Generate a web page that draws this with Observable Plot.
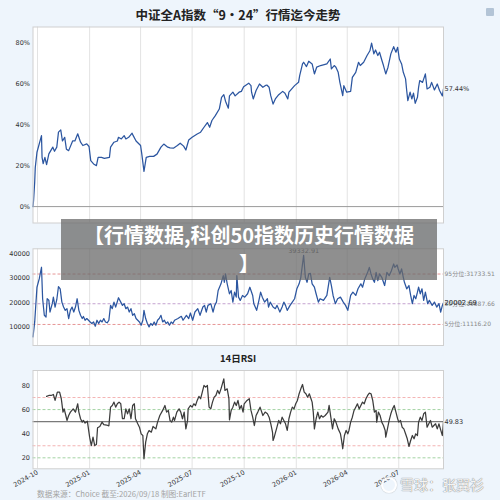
<!DOCTYPE html>
<html><head><meta charset="utf-8">
<script src="https://cdn.jsdelivr.net/npm/d3@7"></script>
<script src="https://cdn.jsdelivr.net/npm/@observablehq/plot@0.6"></script>
<style>
html,body{margin:0;padding:0}
body{background:#eef5fc;width:500px;height:500px;overflow:hidden;position:relative;font-family:"DejaVu Sans","Noto Sans CJK SC",sans-serif}
.abs{position:absolute;left:0}
#title{position:absolute;left:0;width:476px;top:5px;text-align:center;font:bold 12.5px "Noto Sans CJK SC",sans-serif;color:#222}
#rsiTitle{position:absolute;left:0;width:476px;top:351px;text-align:center;font:bold 9.5px "Noto Sans CJK SC",sans-serif;color:#222}
#footer{position:absolute;left:37px;top:488px;font:7.7px "Noto Sans CJK SC",sans-serif;color:#a3a3a3;white-space:nowrap}
#banner{position:absolute;left:61px;top:219px;width:376px;height:61px;background:rgba(105,105,105,0.75);color:#fff;text-align:center;font:bold 20px/28px "Noto Sans CJK SC",sans-serif;padding-top:2px;box-sizing:border-box;white-space:nowrap}
#wm{position:absolute;left:400px;top:475px;font:14px/18px "Noto Sans CJK SC",sans-serif;color:rgba(255,255,255,0.92);text-shadow:0 0 1px #888,0 0 1px #888;white-space:nowrap}
#logo{position:absolute;left:381px;top:477px;width:12px;height:12px;border:2px solid rgba(255,255,255,0.9);border-radius:50%;box-shadow:0 0 1px #888}
#icon{position:absolute;left:486px;top:8px;width:8px;height:8px;background:#b3c4d6;border-radius:1px}
</style></head><body>
<div id="title">中证全A指数“9・24”行情迄今走势</div>
<div id="icon"></div>
<div id="p1" class="abs" style="top:20px"></div>
<div id="p2" class="abs" style="top:240px"></div>
<div id="rsiTitle">14日RSI</div>
<div id="p3" class="abs" style="top:362px"></div>
<div id="footer">数据来源：Choice 截至:2026/09/18 制图:EarlETF</div>
<div id="banner">【行情数据,科创50指数历史行情数据<br>】</div>
<div id="logo"></div>
<div id="wm">雪球：张翼衫</div>
<script>
// ---- data ----
const quarterDates = ["2024-10-01","2025-01-01","2025-04-01","2025-07-01","2025-10-01","2026-01-01","2026-04-01","2026-07-01"];
const quarterLabels = ["2024-10","2025-01","2025-04","2025-07","2025-10","2026-01","2026-04","2026-07"];
const pctTicks = [0,20,40,60,80];
const volTicks = [10000,20000,30000,40000];
const rsiTicks = [20,40,60,80];
const volPercentiles = [["95分位",31733.51],["50分位",19587.66],["5分位",11116.20]];
const rsiLevels = [70,60,50,30,20];

const indexReturn = [["2024-09-23",0],["2024-09-24",3],["2024-09-26",12],["2024-09-27",19],["2024-09-30",26.5],["2024-10-08",34.6],["2024-10-09",24],["2024-10-11",21],["2024-10-14",24],["2024-10-17",20.5],["2024-10-21",25.7],["2024-10-28",29],["2024-10-31",27],["2024-11-04",29],["2024-11-07",36.3],["2024-11-11",37.4],["2024-11-14",32],["2024-11-18",33.8],["2024-11-21",28],["2024-11-25",27.3],["2024-12-02",32],["2024-12-06",32],["2024-12-11",35.5],["2024-12-16",31.4],["2024-12-20",29.8],["2024-12-27",30.6],["2024-12-31",29.3],["2025-01-03",22.4],["2025-01-08",20.8],["2025-01-13",20],["2025-01-16",24],["2025-01-22",24],["2025-01-27",23.5],["2025-02-05",24],["2025-02-07",29],["2025-02-13",31.4],["2025-02-19",32],["2025-02-21",33.8],["2025-02-26",33],["2025-03-03",34.6],["2025-03-06",33],["2025-03-11",33.8],["2025-03-17",35.8],["2025-03-19",34.6],["2025-03-24",32],["2025-04-01",29.8],["2025-04-03",26],["2025-04-07",17.2],["2025-04-11",24],["2025-04-17",24.5],["2025-04-24",24.5],["2025-04-30",25.6],["2025-05-07",29],["2025-05-12",30.5],["2025-05-19",29],["2025-05-23",28.6],["2025-05-29",28.5],["2025-06-05",29.8],["2025-06-10",30.9],["2025-06-16",29.5],["2025-06-20",27.6],["2025-06-25",32.5],["2025-07-01",33.8],["2025-07-10",35.4],["2025-07-16",36.3],["2025-07-22",38.7],["2025-07-28",41],["2025-08-01",38.7],["2025-08-05",42],["2025-08-11",44.4],["2025-08-18",47.6],["2025-08-22",53.3],["2025-08-26",54.6],["2025-08-29",51.4],["2025-09-03",48],["2025-09-05",54],["2025-09-11",55.8],["2025-09-15",54],["2025-09-22",55.8],["2025-09-26",56.2],["2025-09-30",58.5],["2025-10-09",60.2],["2025-10-13",59],["2025-10-14",55.8],["2025-10-17",52.5],["2025-10-22",56.6],["2025-10-28",59.8],["2025-11-03",58.2],["2025-11-07",59],["2025-11-10",59.3],["2025-11-14",58.2],["2025-11-17",54],["2025-11-21",50],["2025-11-25",52.5],["2025-12-01",54.6],["2025-12-08",56.2],["2025-12-12",55.3],["2025-12-17",52.5],["2025-12-19",55.8],["2025-12-29",59],["2026-01-05",60.6],["2026-01-07",63.9],["2026-01-12",69.6],["2026-01-14",70.4],["2026-01-19",68.3],["2026-01-23",70.9],["2026-01-29",69.6],["2026-02-02",64.7],["2026-02-06",68],["2026-02-13",68.8],["2026-02-24",69.6],["2026-03-02",72],["2026-03-04",67.2],["2026-03-09",68.8],["2026-03-12",68],["2026-03-16",65.5],["2026-03-19",60.6],["2026-03-24",54.1],["2026-03-26",59],["2026-03-31",55.8],["2026-04-07",56.2],["2026-04-10",63],["2026-04-16",65.5],["2026-04-21",70.4],["2026-04-24",68.8],["2026-04-30",70.4],["2026-05-06",73.7],["2026-05-11",76],["2026-05-14",79.7],["2026-05-18",74.5],["2026-05-21",76.4],["2026-05-25",73.7],["2026-05-28",75.3],["2026-06-01",71.5],["2026-06-04",68.8],["2026-06-08",64.7],["2026-06-12",68],["2026-06-17",74.5],["2026-06-22",78],["2026-06-26",75.3],["2026-06-29",77.7],["2026-07-02",72],["2026-07-06",69.6],["2026-07-09",65.5],["2026-07-13",62.3],["2026-07-15",56.6],["2026-07-17",51.7],["2026-07-21",55.8],["2026-07-24",52.5],["2026-07-27",55.3],["2026-07-30",50.4],["2026-08-03",53.3],["2026-08-05",58.2],["2026-08-07",61.5],["2026-08-12",60.6],["2026-08-17",64.7],["2026-08-20",57.4],["2026-08-25",58.2],["2026-08-28",60.6],["2026-09-02",56.9],["2026-09-07",59.8],["2026-09-11",56.6],["2026-09-16",54],["2026-09-18",57.44]];

const turnover = [["2024-09-23",6070],["2024-09-26",12150],["2024-09-30",26340],["2024-10-04",29740],["2024-10-08",34500],["2024-10-10",21630],["2024-10-13",14860],["2024-10-16",14180],["2024-10-18",21630],["2024-10-21",21000],["2024-10-23",16200],["2024-10-27",19600],["2024-10-29",22280],["2024-11-01",18230],["2024-11-04",21230],["2024-11-07",26620],["2024-11-10",25690],["2024-11-13",20260],["2024-11-16",18230],["2024-11-19",16890],["2024-11-22",17570],["2024-11-25",13530],["2024-11-28",16890],["2024-12-01",18230],["2024-12-04",16200],["2024-12-07",18230],["2024-12-10",21630],["2024-12-13",16890],["2024-12-16",14860],["2024-12-19",13530],["2024-12-21",14400],["2024-12-24",12840],["2024-12-27",13530],["2024-12-30",12840],["2025-01-02",12150],["2025-01-05",11500],["2025-01-08",12150],["2025-01-11",10400],["2025-01-14",12840],["2025-01-17",11500],["2025-01-20",12840],["2025-01-23",12150],["2025-01-26",13530],["2025-01-29",12150],["2025-02-01",11800],["2025-02-04",12840],["2025-02-07",18920],["2025-02-10",17570],["2025-02-13",20260],["2025-02-16",18230],["2025-02-21",22040],["2025-02-25",20260],["2025-02-28",18920],["2025-03-03",19600],["2025-03-06",17570],["2025-03-09",18230],["2025-03-12",16200],["2025-03-15",17570],["2025-03-18",14860],["2025-03-21",15500],["2025-03-24",13530],["2025-03-27",12840],["2025-03-30",12150],["2025-04-02",10810],["2025-04-05",12840],["2025-04-07",16890],["2025-04-10",13530],["2025-04-13",11500],["2025-04-16",10140],["2025-04-19",11500],["2025-04-22",10810],["2025-04-25",12150],["2025-04-28",10810],["2025-05-01",12840],["2025-05-04",13530],["2025-05-07",14860],["2025-05-10",12150],["2025-05-13",12840],["2025-05-16",11500],["2025-05-19",12150],["2025-05-22",10810],["2025-05-25",12150],["2025-05-28",11500],["2025-05-31",12840],["2025-06-06",13530],["2025-06-12",14460],["2025-06-15",12840],["2025-06-21",14860],["2025-06-25",13530],["2025-06-28",15800],["2025-07-02",12840],["2025-07-06",16200],["2025-07-11",17570],["2025-07-15",14860],["2025-07-20",18230],["2025-07-23",18920],["2025-07-26",16200],["2025-07-29",18920],["2025-08-03",19600],["2025-08-07",16200],["2025-08-10",18920],["2025-08-13",20260],["2025-08-16",25000],["2025-08-21",27720],["2025-08-25",31080],["2025-08-27",28360],["2025-08-29",31770],["2025-09-01",27720],["2025-09-05",23660],["2025-09-08",25000],["2025-09-11",20260],["2025-09-14",24310],["2025-09-17",22280],["2025-09-18",31080],["2025-09-21",22280],["2025-09-24",20950],["2025-09-28",22970],["2025-10-02",22280],["2025-10-07",23660],["2025-10-11",26340],["2025-10-16",22970],["2025-10-18",19600],["2025-10-23",16890],["2025-10-27",20950],["2025-10-30",24310],["2025-11-02",22280],["2025-11-06",20260],["2025-11-11",21630],["2025-11-13",18230],["2025-11-16",20260],["2025-11-21",18230],["2025-11-25",17570],["2025-11-28",18920],["2025-12-03",16200],["2025-12-07",18230],["2025-12-10",20260],["2025-12-13",18920],["2025-12-16",16890],["2025-12-21",18920],["2025-12-25",20260],["2025-12-29",21630],["2026-01-02",25690],["2026-01-06",27720],["2026-01-09",30390],["2026-01-12",35830],["2026-01-14",39332.91],["2026-01-17",30390],["2026-01-20",28360],["2026-01-23",31770],["2026-01-26",32000],["2026-01-29",27720],["2026-02-02",26340],["2026-02-05",23660],["2026-02-09",20260],["2026-02-12",21630],["2026-02-18",20950],["2026-02-24",22970],["2026-03-01",30390],["2026-03-04",27030],["2026-03-07",22970],["2026-03-11",19600],["2026-03-15",21630],["2026-03-20",22280],["2026-03-25",20260],["2026-03-29",18920],["2026-04-02",16890],["2026-04-07",22970],["2026-04-11",24310],["2026-04-16",22970],["2026-04-20",25690],["2026-04-25",27720],["2026-04-28",26340],["2026-05-02",29740],["2026-05-07",32420],["2026-05-10",34440],["2026-05-13",31770],["2026-05-16",29740],["2026-05-19",28360],["2026-05-22",32420],["2026-05-25",29060],["2026-05-28",31770],["2026-06-01",30390],["2026-06-04",28360],["2026-06-06",27030],["2026-06-10",32420],["2026-06-14",31080],["2026-06-18",33110],["2026-06-22",35830],["2026-06-24",34440],["2026-06-28",35420],["2026-06-30",33800],["2026-07-03",31770],["2026-07-06",33800],["2026-07-09",30390],["2026-07-11",28360],["2026-07-15",25690],["2026-07-19",27030],["2026-07-22",22970],["2026-07-25",19600],["2026-07-28",22970],["2026-07-31",21630],["2026-08-03",24310],["2026-08-05",26340],["2026-08-08",23660],["2026-08-11",25690],["2026-08-14",20950],["2026-08-17",24310],["2026-08-21",19600],["2026-08-24",20950],["2026-08-29",18920],["2026-09-02",20260],["2026-09-06",18230],["2026-09-10",19600],["2026-09-13",16200],["2026-09-16",18920],["2026-09-18",20002.69]];

const rsi14 = [["2024-10-17",70.9],["2024-10-21",71.7],["2024-10-25",71.7],["2024-10-29",72.5],["2024-11-01",67.6],["2024-11-05",74.5],["2024-11-09",74.5],["2024-11-12",69],["2024-11-15",57.9],["2024-11-17",60.6],["2024-11-20",55.1],["2024-11-22",51],["2024-11-25",55.1],["2024-11-28",57.9],["2024-12-03",60.6],["2024-12-07",57.9],["2024-12-11",64.8],["2024-12-13",57.9],["2024-12-16",52.4],["2024-12-19",49.6],["2024-12-21",51],["2024-12-24",48.8],["2024-12-28",50.4],["2025-01-01",37.1],["2025-01-04",30.2],["2025-01-07",37.1],["2025-01-10",30.2],["2025-01-13",31],["2025-01-15",44.9],["2025-01-19",46],["2025-01-23",49.6],["2025-01-26",47.5],["2025-01-31",47.2],["2025-02-04",46.5],["2025-02-07",62],["2025-02-10",63.4],["2025-02-13",66.2],["2025-02-16",62],["2025-02-19",64.8],["2025-02-22",66.2],["2025-02-25",64.8],["2025-02-28",52.4],["2025-03-03",52.4],["2025-03-06",60.6],["2025-03-09",56.5],["2025-03-12",60.6],["2025-03-15",52.4],["2025-03-18",63.4],["2025-03-21",64.8],["2025-03-23",52.4],["2025-03-27",48.2],["2025-03-30",45.4],["2025-04-02",39.9],["2025-04-05",38.5],["2025-04-07",19.2],["2025-04-10",33],["2025-04-13",39.9],["2025-04-16",42.7],["2025-04-20",41.3],["2025-04-23",46],["2025-04-28",44],["2025-05-01",49.6],["2025-05-05",55.1],["2025-05-10",59.3],["2025-05-14",63.4],["2025-05-17",57.9],["2025-05-20",59.3],["2025-05-23",51],["2025-05-26",49.6],["2025-05-29",53.7],["2025-05-31",51],["2025-06-04",57.9],["2025-06-08",60.6],["2025-06-11",57.9],["2025-06-14",52.4],["2025-06-17",57.9],["2025-06-20",44],["2025-06-23",51],["2025-06-24",60.6],["2025-06-28",63.4],["2025-07-01",62],["2025-07-04",64.8],["2025-07-07",63.4],["2025-07-10",67.6],["2025-07-13",70.9],["2025-07-16",69],["2025-07-19",74.5],["2025-07-22",80],["2025-07-25",78.6],["2025-07-28",80],["2025-07-31",62],["2025-08-03",60.6],["2025-08-06",66.2],["2025-08-09",70.3],["2025-08-12",71.7],["2025-08-15",75.9],["2025-08-18",73.1],["2025-08-21",77.2],["2025-08-26",85.5],["2025-08-28",75.9],["2025-09-01",77.2],["2025-09-04",69],["2025-09-05",51.5],["2025-09-08",59.3],["2025-09-11",62],["2025-09-14",66.2],["2025-09-17",63.4],["2025-09-20",67.6],["2025-09-23",60.6],["2025-09-26",63.4],["2025-09-29",57.9],["2025-10-01",64.8],["2025-10-06",67.6],["2025-10-10",69],["2025-10-13",59.3],["2025-10-16",53.7],["2025-10-19",46.8],["2025-10-22",55.1],["2025-10-25",57.9],["2025-10-29",62],["2025-11-03",55.1],["2025-11-07",57.9],["2025-11-11",56.5],["2025-11-14",53.7],["2025-11-17",48.2],["2025-11-20",41.3],["2025-11-21",34.4],["2025-11-23",37.1],["2025-11-27",44],["2025-12-01",51],["2025-12-04",48.2],["2025-12-07",53.7],["2025-12-10",51],["2025-12-13",48.2],["2025-12-16",42.7],["2025-12-19",52.4],["2025-12-22",57.9],["2025-12-25",62],["2025-12-28",60.6],["2025-12-31",64.8],["2026-01-03",67.6],["2026-01-06",73.1],["2026-01-09",77.2],["2026-01-12",80.8],["2026-01-15",74.5],["2026-01-18",73.1],["2026-01-21",70.3],["2026-01-24",73.1],["2026-01-27",69],["2026-01-29",66.2],["2026-01-31",57.9],["2026-02-02",44],["2026-02-05",52.4],["2026-02-08",57.9],["2026-02-11",52.4],["2026-02-14",55.1],["2026-02-17",53.7],["2026-02-21",55.1],["2026-02-26",57.9],["2026-02-28",63.4],["2026-03-03",53.7],["2026-03-06",44],["2026-03-09",52.4],["2026-03-12",49.6],["2026-03-16",44],["2026-03-20",39.9],["2026-03-22",34.4],["2026-03-24",27.5],["2026-03-27",38.5],["2026-03-30",42.7],["2026-04-02",39.9],["2026-04-04",42.7],["2026-04-07",49.6],["2026-04-10",53.7],["2026-04-13",59.3],["2026-04-16",62],["2026-04-19",64.8],["2026-04-22",60.6],["2026-04-25",63.4],["2026-04-28",66.2],["2026-05-01",64.8],["2026-05-04",69],["2026-05-07",71.7],["2026-05-10",73.6],["2026-05-13",73.1],["2026-05-16",67.6],["2026-05-19",57.9],["2026-05-22",59.3],["2026-05-23",49.6],["2026-05-26",57.9],["2026-05-29",55.1],["2026-06-01",49.6],["2026-06-04",46.8],["2026-06-07",42.7],["2026-06-08",37.1],["2026-06-11",44],["2026-06-14",51],["2026-06-17",56.5],["2026-06-20",60.6],["2026-06-23",63.4],["2026-06-26",57.9],["2026-06-29",52.4],["2026-07-01",49.6],["2026-07-04",51],["2026-07-07",45.4],["2026-07-10",44],["2026-07-13",39.9],["2026-07-16",35.8],["2026-07-19",29.4],["2026-07-22",34.4],["2026-07-25",38.5],["2026-07-28",35.8],["2026-07-31",39.9],["2026-08-03",38.5],["2026-08-05",49.6],["2026-08-08",53.7],["2026-08-11",51],["2026-08-14",56.5],["2026-08-17",57.9],["2026-08-20",45.4],["2026-08-23",48.2],["2026-08-26",51],["2026-08-29",45.4],["2026-09-01",46.8],["2026-09-04",48.2],["2026-09-07",44],["2026-09-10",48.2],["2026-09-13",43.2],["2026-09-16",38.5],["2026-09-18",49.83]];

// ---- drawing ----
const parse = d3.utcParse("%Y-%m-%d");
const toRows = a => a.map(([d, v]) => ({date: parse(d), value: v}));
const idxRows = toRows(indexReturn), volRows = toRows(turnover), rsiRows = toRows(rsi14);
const xDomain = [idxRows[0].date, idxRows[idxRows.length - 1].date];
const qTicks = quarterDates.map(parse);
const labelOf = new Map(qTicks.map((d, i) => [+d, quarterLabels[i]]));
const FONT = '"DejaVu Sans","Noto Sans CJK SC",sans-serif';
const BLUE = "#2c56a0";

function common(h, mt, mb, yDomain) {
  return {
    width: 500, height: h, marginLeft: 32.5, marginRight: 57, marginTop: mt, marginBottom: mb,
    x: {type: "utc", domain: xDomain, axis: null},
    y: {domain: yDomain, axis: null},
    style: {background: "transparent", fontFamily: FONT, overflow: "visible", color: "#333"}
  };
}
const lastOf = rows => rows[rows.length - 1];

const p1 = Plot.plot({
  ...common(210, 6.5, 7.5, [-8, 87.6]),
  marks: [
    Plot.frame({fill: "white", stroke: null}),
    Plot.gridX(qTicks, {stroke: "#e3e3e3", strokeOpacity: 1}),
    Plot.ruleY([0], {stroke: "#9a9a9a", strokeWidth: 1}),
    Plot.line(idxRows, {x: "date", y: "value", stroke: BLUE, strokeWidth: 1.25}),
    Plot.axisY(pctTicks, {tickFormat: d => d + "%", tickSize: 0, tickPadding: 3, fontSize: 6.5, label: null}),
    Plot.text([lastOf(idxRows)], {x: "date", y: "value", text: d => d.value.toFixed(2) + "%", textAnchor: "start", dx: 1, fontSize: 6.5, fill: "#333"}),
    Plot.frame({stroke: "#cfcfcf"})
  ]
});
document.getElementById("p1").append(p1);

const peak = d3.greatest(volRows, d => d.value);
const p2 = Plot.plot({
  ...common(110, 8.3, 5, [2520, 42040]),
  marks: [
    Plot.frame({fill: "white", stroke: null}),
    Plot.gridX(qTicks, {stroke: "#e3e3e3", strokeOpacity: 1}),
    Plot.ruleY(volPercentiles, {y: d => d[1], stroke: (d, i) => i === 1 ? "#b58bc4" : "#e07b7b", strokeWidth: 0.8, strokeDasharray: "3,2"}),
    Plot.line(volRows, {x: "date", y: "value", stroke: BLUE, strokeWidth: 1.25}),
    Plot.axisY(volTicks, {tickFormat: d => String(d), tickSize: 0, tickPadding: 3, fontSize: 6.5, label: null}),
    Plot.text(volPercentiles, {x: xDomain[1], y: d => d[1], text: d => d[0] + ":" + d[1].toFixed(2), textAnchor: "start", dx: 1, fontSize: 6, fill: "#888"}),
    Plot.text([lastOf(volRows)], {x: "date", y: "value", text: d => d.value.toFixed(2), textAnchor: "start", dx: 1, fontSize: 6.8, fill: "#222"}),
    Plot.text([peak], {x: "date", y: "value", text: d => d.value.toFixed(2), dy: -5, fontSize: 6.5, fill: "#555"}),
    Plot.frame({stroke: "#cfcfcf"})
  ]
});
document.getElementById("p2").append(p2);

const levelColor = {70: "#f0a0a0", 30: "#f0a0a0", 60: "#8cc88c", 20: "#8cc88c", 50: "#777"};
const p3 = Plot.plot({
  ...common(138, 8, 31.7, [10.9, 92.4]),
  marks: [
    Plot.frame({fill: "white", stroke: null}),
    Plot.gridX(qTicks, {stroke: "#e3e3e3", strokeOpacity: 1}),
    Plot.ruleY(rsiLevels.filter(v => v !== 50), {stroke: d => levelColor[d], strokeWidth: 0.8, strokeDasharray: "3,2"}),
    Plot.ruleY([50], {stroke: "#7a7a7a", strokeWidth: 1.2}),
    Plot.line(rsiRows, {x: "date", y: "value", stroke: "#3c3c3c", strokeWidth: 1.25}),
    Plot.axisY(rsiTicks, {tickSize: 0, tickPadding: 3, fontSize: 6.5, label: null}),
    Plot.axisX(qTicks, {tickFormat: d => labelOf.get(+d), tickRotate: -30, tickSize: 0, tickPadding: 3, fontSize: 6.5, label: null}),
    Plot.text([lastOf(rsiRows)], {x: "date", y: "value", text: d => d.value.toFixed(2), textAnchor: "start", dx: 1, fontSize: 6.5, fill: "#333"}),
    Plot.frame({stroke: "#cfcfcf"})
  ]
});
document.getElementById("p3").append(p3);
</script>
</body></html>
